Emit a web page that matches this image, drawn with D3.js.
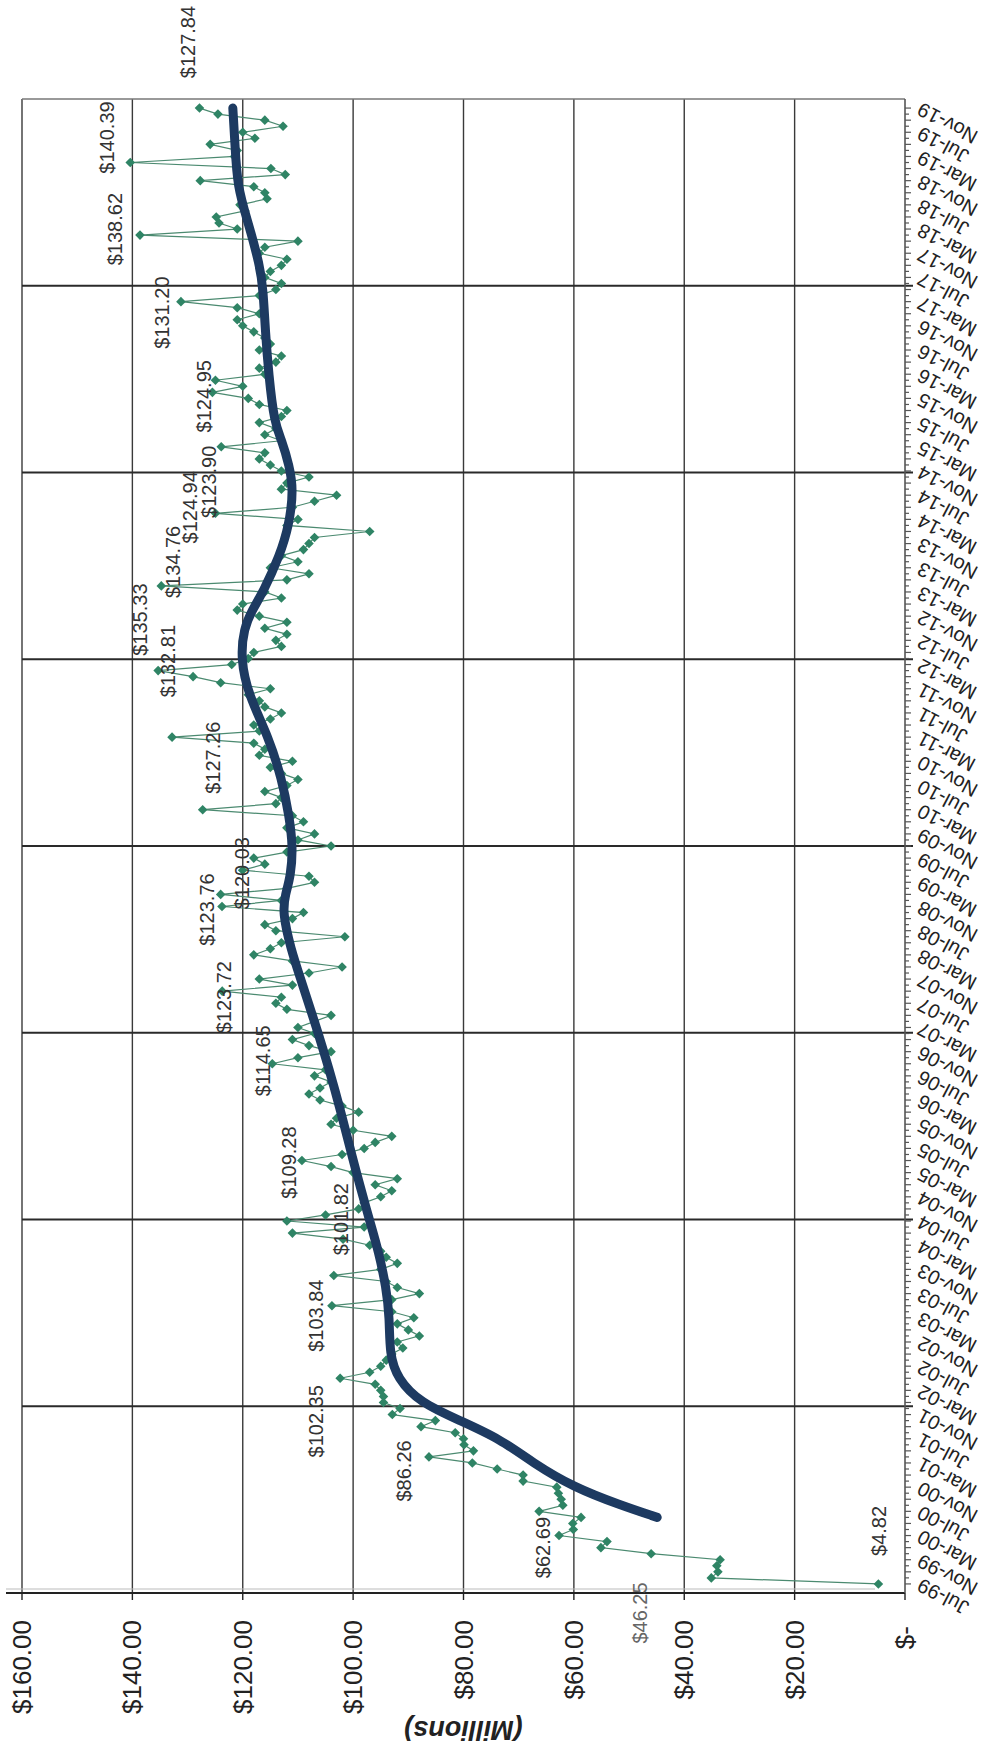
<!DOCTYPE html>
<html><head><meta charset="utf-8">
<script src="https://cdn.jsdelivr.net/npm/d3@7"></script>
<style>html,body{margin:0;padding:0;background:#fff}svg text{font-family:"Liberation Sans",Arial,sans-serif}</style>
</head><body><svg id="c" width="996" height="1754"></svg>
<script>
// ---- data ----
const monthNames = ["Jan","Feb","Mar","Apr","May","Jun","Jul","Aug","Sep","Oct","Nov","Dec"];
const firstYear = 1999, firstMonth = 6, monthCount = 245; // Jul-99 .. Nov-19
const categories = d3.range(monthCount).map(k => {
  const m = (firstMonth + k) % 12, yr = firstYear + Math.floor((firstMonth + k) / 12);
  return monthNames[m] + "-" + String(yr % 100).padStart(2, "0");
});
const monthlyValues = [
 4.82,35.1,33.9,34.1,33.5,46.0,55.1,54.0,62.69,60.1, 60.2,58.7,66.3,62.0,62.3,62.8,63.1,69.2,69.2,73.9,
 78.4,86.26,78.2,79.9,80.0,81.5,87.7,85.1,92.9,91.5, 94.5,94.5,95,96,102.35,97,95,94,93,91,
 92,88,90,92,89,93,103.84,93,88,92, 94,103.5,95,92,94,95,97,101.82,111,98,
 112,105,99,98,95,93,96,92,100,104, 109.28,102,98,96,93,100,104,103,99,102,
 106,108,106,104,107,105,114.65,110,104,108, 111,107,110,107,104,112,114,113,123.72,111,
 117,108,102,111,118,115,113,101.5,114,116, 111,109,123.76,113,124,112,107,108,120.03,116,
 118,112,104,110,107,112,109,111,127.26,114, 113,116,112,110,113,115,111,117,116,118,
 132.81,117,118,115,113,116,117,119,115,124, 129,135.33,122,119,118,113,114,112,116,112,
 117,121,120,113,116,134.76,112,108,115,110, 113,109,108,107,97,112,110,124.94,111,107,
 103,113,112,108,113,115,117,116,123.90,113, 116,114,117,113,112,117,119,125.5,120,124.95,
 116,117,114,113,117,115,116,118,120,121, 117,121,131.20,117,114,113,116,115,113,112,
 117,116,110,138.62,121,124.3,124.8,119.6,120.5,115.6, 116,118,127.7,112.3,114.9,140.39,121.5,121,125.9,117.8,
 120,112.7,116,124.5,127.84
];
const avgMonths = [11,13,16,20,24,27,30,34,38,44,49,55,60,66,70,78,85,93,100,105,111,114,117,122,127,133,140,147,153,158,161,164,170,175,181,185,189,192,200,207,214,218,225,231,238,244];
const avgValues = [44.9,51.5,60.1,67.4,73.4,80.6,87.9,92,93.4,93.4,94,95.4,97,98.8,100,102.2,104.3,107,109.5,111.3,112.8,112.3,111.3,110.9,111.6,112.9,115.3,119,120.4,119.8,118.3,116.3,113.3,111.6,110.8,111.6,112.9,114.3,115.3,115.9,116.3,116.9,119,121,121.4,121.8];
const valueTicks = [0,20,40,60,80,100,120,140,160];
const tickLabel = v => v === 0 ? "$-" : "$" + v.toFixed(2);
const labelMonths = [0,8,21,34,46,57,70,86,98,112,118,128,140,151,165,177,188,199,212,223,235,244];
const extraLabelValue = 46.25;
// label shifts (layout only), px in the upright chart: [along dates, along values]
const labelShift = [[53,1],[-12,-16],[-14,-25],[-43,-24],[-10,-16],[20,-2],[-2,-13],[3,-9],[-6,2],[-3,-15],[-3,-1],[52,10],[76,-4],[51,-18],[24,12],[6,-25],[-35,-12],[-16,-11],[-11,-19],[6,-25],[25,-23],[66,-11]];

// ---- chart (drawn upright, then turned a quarter turn counter-clockwise) ----
const svg = d3.select("#c");
svg.append("rect").attr("width",996).attr("height",1754).attr("fill","#fff");
const g = svg.append("g").attr("transform","translate(0,1754) rotate(-90)");
const x = d3.scalePoint().domain(categories).range([161,1655]).padding(1.5);
const y = d3.scaleLinear().domain([0,160]).range([905,22]);
const [x0,x1] = x.range();

// value gridlines
g.selectAll("line.vg").data(valueTicks.filter(v=>v>0)).join("line")
  .attr("x1",x0).attr("x2",x1).attr("y1",d=>y(d)).attr("y2",d=>y(d))
  .attr("stroke","#3a3a3a").attr("stroke-width",1.4);
// date gridlines (8 equal divisions of the category axis)
const gridCount = 8;
g.selectAll("line.dg").data(d3.range(1,gridCount+1)).join("line")
  .attr("x1",k=>x0+k*(x1-x0)/gridCount).attr("x2",k=>x0+k*(x1-x0)/gridCount)
  .attr("y1",y(160)).attr("y2",k=>k<gridCount?y(0)+8:y(0))
  .attr("stroke",k=>k<gridCount?"#2a2a2a":"#777").attr("stroke-width",k=>k<gridCount?2:1.4);
// value axis
g.append("line").attr("x1",x0).attr("x2",x0).attr("y1",6).attr("y2",y(0))
  .attr("stroke","#222").attr("stroke-width",2.2);
g.append("line").attr("x1",x0+4).attr("x2",x0+4).attr("y1",6).attr("y2",y(0)-30)
  .attr("stroke","#bbb").attr("stroke-width",1.2);
g.selectAll("line.vt").data(valueTicks).join("line")
  .attr("x1",x0).attr("x2",x0-7).attr("y1",d=>y(d)).attr("y2",d=>y(d))
  .attr("stroke","#222").attr("stroke-width",1.4);
g.selectAll("text.vl").data(valueTicks).join("text")
  .attr("x",d=>d===0?x0-33:x0-27).attr("y",d=>y(d)).attr("dy","0.35em")
  .attr("text-anchor","end").attr("font-size",26).attr("fill","#222")
  .text(tickLabel);
g.append("text").attr("transform",`translate(${24},${(y(0)+y(160))/2}) rotate(-90)`)
  .attr("text-anchor","middle").attr("dy","0.35em").attr("font-size",27)
  .attr("font-weight","bold").attr("font-style","italic").attr("fill","#222").text("(Millions)");
// date axis
g.append("line").attr("x1",x0).attr("x2",x1).attr("y1",y(0)).attr("y2",y(0))
  .attr("stroke","#555").attr("stroke-width",1.6);
g.selectAll("line.dt").data(categories).join("line")
  .attr("x1",d=>x(d)).attr("x2",d=>x(d)).attr("y1",y(0)).attr("y2",(d,i)=>y(0)+(i%2?4:6))
  .attr("stroke","#555").attr("stroke-width",1.2);
g.selectAll("text.dl").data(categories.filter((d,i)=>i%4===0)).join("text")
  .attr("transform",d=>`translate(${x(d)},${y(0)+14}) rotate(-62)`)
  .attr("text-anchor","end").attr("dy","0.35em").attr("font-size",20).attr("fill","#222")
  .text(d=>d);

// monthly series
const pts = monthlyValues.map((v,i)=>[x(categories[i]),y(v)]);
g.append("path").attr("d",d3.line()(pts)).attr("fill","none")
  .attr("stroke","#4b8a70").attr("stroke-width",1.2);
g.selectAll("path.mk").data(pts).join("path")
  .attr("d",d3.symbol(d3.symbolSquare,46))
  .attr("transform",d=>`translate(${d[0]},${d[1]}) rotate(45)`)
  .attr("fill","#2f8465");
// moving average
const avgPts = avgMonths.map((m,i)=>[x(categories[m]),y(avgValues[i])]);
g.append("path").attr("d",d3.line().curve(d3.curveBasis)(avgPts)).attr("fill","none")
  .attr("stroke","#1d3a61").attr("stroke-width",9).attr("stroke-linecap","round").attr("stroke-linejoin","round");

// data labels
g.selectAll("text.lab").data(labelMonths).join("text")
  .attr("x",(m,j)=>x(categories[m])+labelShift[j][0])
  .attr("y",(m,j)=>y(monthlyValues[m])+labelShift[j][1])
  .attr("dy","0.35em")
  .attr("text-anchor","middle").attr("font-size",20).attr("fill","#333")
  .text(m=>"$"+monthlyValues[m].toFixed(2));
g.append("text").attr("x",x0-20).attr("y",y(extraLabelValue)-10).attr("dy","0.35em")
  .attr("text-anchor","middle").attr("font-size",20).attr("fill","#666")
  .text("$"+extraLabelValue.toFixed(2));
</script></body></html>
